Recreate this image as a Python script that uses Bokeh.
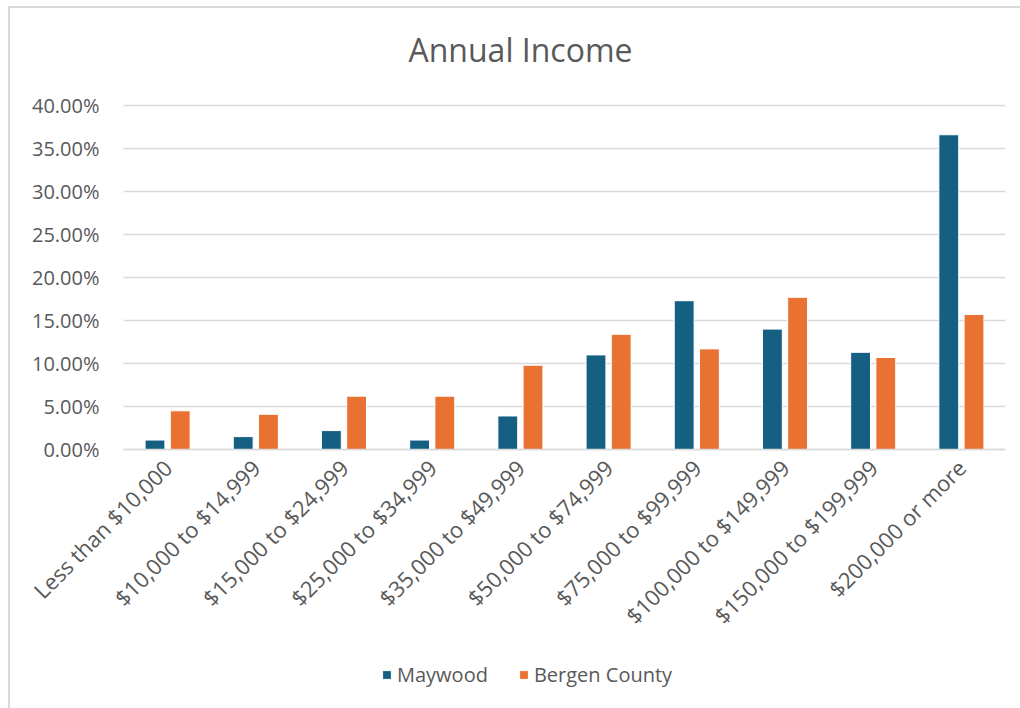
import math
from bokeh.plotting import figure
from bokeh.models import (ColumnDataSource, FixedTicker, PrintfTickFormatter, Legend,
                          LegendItem, Label, Range1d)
from bokeh.transform import dodge
from bokeh.embed import file_html
from bokeh.resources import INLINE

categories = ["Less than $10,000", "$10,000 to $14,999", "$15,000 to $24,999",
              "$25,000 to $34,999", "$35,000 to $49,999", "$50,000 to $74,999",
              "$75,000 to $99,999", "$100,000 to $149,999", "$150,000 to $199,999",
              "$200,000 or more"]
maywood = [1.1, 1.5, 2.2, 1.1, 3.9, 11.0, 17.3, 14.0, 11.3, 36.6]
bergen = [4.5, 4.1, 6.2, 6.2, 9.8, 13.4, 11.7, 17.7, 10.7, 15.7]
y_ticks = [0, 5, 10, 15, 20, 25, 30, 35, 40]
title_text = "Annual Income"

FONT = "Open Sans"
GREY = "#595959"

n = len(categories)
idx = list(range(n))

# pixel layout (canvas starts at x=10, y=8)
PX_Y = 344 / 40.0            # px per percentage point
PX_X = 882 / n               # px per category
FRAME_LEFT, FRAME_RIGHT = 10, 1005
CAT_LEFT = 123
FRAME_TOP, FRAME_BOTTOM, ZERO_Y, TOP_Y = 8, 708, 449, 105
y_end = 40 + (TOP_Y - FRAME_TOP) / PX_Y
y_start = -(FRAME_BOTTOM - ZERO_Y) / PX_Y
x_start = -0.5 - (CAT_LEFT - FRAME_LEFT) / PX_X
x_end = n - 0.5

src = ColumnDataSource(dict(x=idx, cat=categories, maywood=maywood, bergen=bergen))

p = figure(x_range=Range1d(x_start, x_end), y_range=Range1d(y_start, y_end),
           frame_width=FRAME_RIGHT - FRAME_LEFT, frame_height=FRAME_BOTTOM - FRAME_TOP,
           output_backend="svg", toolbar_location=None,
           min_border_left=0, min_border_right=15, min_border_top=0, min_border_bottom=0)
p.styles = {"margin-left": "8px", "margin-top": "6px",
            "border-left": "2px solid #d9d9d9", "border-top": "2px solid #d9d9d9"}
p.title.text = ""
p.title.visible = False

p.outline_line_color = None
p.background_fill_color = "white"
p.border_fill_color = "white"
p.xgrid.visible = False
p.ygrid.visible = False

# horizontal gridlines over the category area only
p.segment(x0=-0.5, x1=n - 0.5, y0=y_ticks, y1=y_ticks,
          line_color="#d9d9d9", line_width=1.5)

r1 = p.vbar(x=dodge("x", -0.143), top="maywood", width=0.225,
            source=src, fill_color="#156082", line_color="white", line_width=1)
r2 = p.vbar(x=dodge("x", 0.143), top="bergen", width=0.225,
            source=src, fill_color="#E97132", line_color="white", line_width=1)

p.yaxis.fixed_location = -0.5
p.yaxis.ticker = FixedTicker(ticks=y_ticks)
p.yaxis.formatter = PrintfTickFormatter(format="%.2f%%")
p.yaxis.axis_line_color = None
p.yaxis.major_tick_line_color = None
p.yaxis.minor_tick_line_color = None
p.yaxis.major_label_standoff = 18
p.yaxis.major_label_text_font = FONT
p.yaxis.major_label_text_font_size = "20px"
p.yaxis.major_label_text_color = GREY

p.xaxis.fixed_location = 0
p.xaxis.bounds = (-0.5, n - 0.5)
p.xaxis.ticker = FixedTicker(ticks=idx)
p.xaxis.major_label_overrides = {i: c for i, c in zip(idx, categories)}
p.xaxis.axis_line_color = "#d9d9d9"
p.xaxis.axis_line_width = 1.5
p.xaxis.major_tick_line_color = None
p.xaxis.minor_tick_line_color = None
p.xaxis.major_label_orientation = math.pi / 4
p.xaxis.major_label_standoff = 8
p.xaxis.major_label_text_font = FONT
p.xaxis.major_label_text_font_size = "22px"
p.xaxis.major_label_text_color = GREY

title = Label(x=(520 - CAT_LEFT) / PX_X - 0.5, y=40 + (TOP_Y - 49) / PX_Y, text=title_text,
              text_font=FONT, text_font_size="32px", text_color=GREY,
              text_align="center", text_baseline="middle")
p.add_layout(title)

legend = Legend(items=[LegendItem(label="Maywood", renderers=[r1]),
                       LegendItem(label="Bergen County", renderers=[r2])],
                orientation="horizontal", location=(381 - FRAME_LEFT, 20),
                label_text_font=FONT, label_text_font_size="20px",
                label_text_color=GREY, glyph_width=11, glyph_height=11,
                label_standoff=5, spacing=30, border_line_color=None,
                background_fill_alpha=0, padding=0, margin=0)
p.add_layout(legend, "center")

open("out.html", "w").write(file_html(p, INLINE))
